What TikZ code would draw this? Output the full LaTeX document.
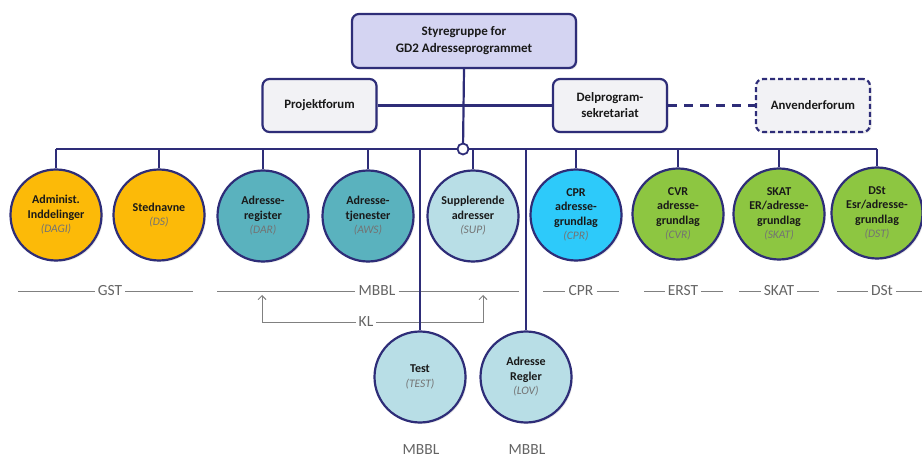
\documentclass[tikz,border=0pt]{standalone}
\usepackage{fontspec}
\setmainfont{Carlito}
\usepackage{tikz}
\usetikzlibrary{arrows.meta, shadows}

\definecolor{navy}{RGB}{46,45,120}
\definecolor{lilla}{RGB}{212,212,242}
\definecolor{graa}{RGB}{242,242,245}
\definecolor{orange_c}{RGB}{252,186,8}
\definecolor{teal_c}{RGB}{90,178,190}
\definecolor{lyseblaa}{RGB}{184,222,230}
\definecolor{cpr_c}{RGB}{45,202,250}
\definecolor{groen}{RGB}{141,198,65}
\definecolor{linjegraa}{RGB}{128,128,128}
\definecolor{tekstgraa}{RGB}{100,100,100}
\definecolor{kodegraa}{RGB}{115,115,115}
\definecolor{tekstsort}{RGB}{25,25,25}

\newcommand{\kode}[1]{{\normalfont\itshape\fontsize{11.5}{14}\selectfont\color{kodegraa}(#1)}}

\begin{document}
\begin{tikzpicture}[
    x=1pt, y=-1pt,
    every node/.style={align=center},
    skygge/.style={drop shadow={opacity=0.18, shadow xshift=1.5pt, shadow yshift=-1.5pt}},
    box_lilla/.style={
        rectangle,
        draw=navy,
        line width=2.2pt,
        fill=lilla,
        skygge,
        rounded corners=7pt,
        minimum width=224pt,
        minimum height=54pt,
        text=tekstsort,
        font=\bfseries\fontsize{13}{17}\selectfont
    },
    box_graa/.style={
        rectangle,
        draw=navy,
        line width=2.2pt,
        fill=graa,
        skygge,
        rounded corners=7pt,
        minimum width=114pt,
        minimum height=53pt,
        text=tekstsort,
        font=\bfseries\fontsize{12.8}{16}\selectfont
    },
    box_stiplet/.style={
        box_graa,
        dash pattern=on 5pt off 3pt
    },
    circ/.style={
        circle,
        draw=navy,
        line width=2.2pt,
        skygge,
        minimum size=91pt,
        inner sep=0pt,
        text=tekstsort,
        font=\bfseries\fontsize{12}{14.5}\selectfont
    },
    circ_orange/.style={circ, fill=orange_c},
    circ_teal/.style={circ, fill=teal_c},
    circ_lys/.style={circ, fill=lyseblaa},
    circ_cpr/.style={circ, fill=cpr_c},
    circ_groen/.style={circ, fill=groen},
    hub/.style={circle, draw=navy, line width=1.8pt, fill=white, minimum size=11pt, inner sep=0pt},
    line/.style={draw=navy, line width=2.2pt},
    label_line/.style={draw=linjegraa, line width=0.9pt},
    label_text/.style={text=tekstgraa, font=\fontsize{15.5}{17}\selectfont, inner sep=3pt},
    arrow/.style={label_line, -{Straight Barb[length=4pt, width=8pt]}}
]
    \useasboundingbox (0,0) rectangle (922,457);

    % ledelse
    \node [box_lilla] (styre) at (464,41) {Styregruppe for\\GD2 Adresseprogrammet};
    \node [box_graa] (projekt) at (319.5,105.5) {Projektforum};
    \node [box_graa] (delprog) at (610,105.5) {Delprogram-\\sekretariat};
    \node [box_stiplet] (anvender) at (813,105.5) {Anvenderforum};

    % forbindelser i toppen
    \draw [line] (styre.south) -- (463,149);
    \draw [line] (projekt.east) -- (delprog.west);
    \draw [line, dash pattern=on 9pt off 7pt] (delprog.east) -- (anvender.west);

    % delprojekter
    \node [circ_orange] (admin) at (56,215) {Administ.\\Inddelinger\\\kode{DAGI}};
    \node [circ_orange] (sted) at (159,215) {Stednavne\\\kode{DS}};
    \node [circ_teal] (dar) at (263,216) {Adresse-\\register\\\kode{DAR}};
    \node [circ_teal] (aws) at (368,216) {Adresse-\\tjenester\\\kode{AWS}};
    \node [circ_lys] (sup) at (473,216) {Supplerende\\adresser\\\kode{SUP}};
    \node [circ_cpr] (cpr) at (576,215) {CPR\\adresse-\\grundlag\\\kode{CPR}};
    \node [circ_groen] (cvr) at (678,214) {CVR\\adresse-\\grundlag\\\kode{CVR}};
    \node [circ_groen] (skat) at (779,214) {SKAT\\ER/adresse-\\grundlag\\\kode{SKAT}};
    \node [circ_groen] (dst) at (877,213) {DSt\\Esr/adresse-\\grundlag\\\kode{DST}};
    \node [circ_lys] (test) at (420,377) {Test\\\kode{TEST}};
    \node [circ_lys] (regler) at (526,377) {Adresse\\Regler\\\kode{LOV}};

    % ansvarlige
    \node [label_text] (gst) at (110,291) {GST};
    \node [label_text] (mbbl) at (377,291) {MBBL};
    \node [label_text] (kl) at (366,322) {KL};
    \node [label_text] (cpr_a) at (581,291) {CPR};
    \node [label_text] (erst) at (683,291) {ERST};
    \node [label_text] (skat_a) at (779,291) {SKAT};
    \node [label_text] (dst_a) at (882,291) {DSt};
    \node [label_text] (mbbl_test) at (421,450) {MBBL};
    \node [label_text] (mbbl_lov) at (527,450) {MBBL};

    \coordinate (gst_l) at (18,291);
    \coordinate (gst_r) at (193,291);
    \coordinate (mbbl_l) at (217,291);
    \coordinate (mbbl_r) at (519,291);
    \coordinate (kl_l) at (262,322);
    \coordinate (kl_r) at (483,322);
    \coordinate (cpr_l) at (543,291);
    \coordinate (cpr_r) at (619,291);
    \coordinate (erst_l) at (644,291);
    \coordinate (erst_r) at (723,291);
    \coordinate (skat_l) at (739,291);
    \coordinate (skat_r) at (819,291);
    \coordinate (dst_l) at (837,291);
    \coordinate (dst_r) at (922,291);

    \draw [label_line] (gst_l) -- (gst.west) (gst.east) -- (gst_r);
    \draw [label_line] (mbbl_l) -- (mbbl.west) (mbbl.east) -- (mbbl_r);
    \draw [label_line] (cpr_l) -- (cpr_a.west) (cpr_a.east) -- (cpr_r);
    \draw [label_line] (erst_l) -- (erst.west) (erst.east) -- (erst_r);
    \draw [label_line] (skat_l) -- (skat_a.west) (skat_a.east) -- (skat_r);
    \draw [label_line] (dst_l) -- (dst_a.west) (dst_a.east) -- (dst_r);
    \draw [arrow] (kl.west) -- (kl_l) -- ++(0,-27);
    \draw [arrow] (kl.east) -- (kl_r) -- ++(0,-27);

    % forbindelser til delprojekter
    \node [hub] (knude) at (463,149) {};
    \draw [line] (admin.north |- knude) -- (knude.west);
    \draw [line] (knude.east) -- (dst.north |- knude);
    \draw [line] (admin.north |- knude) -- (admin.north);
    \draw [line] (sted.north |- knude) -- (sted.north);
    \draw [line] (dar.north |- knude) -- (dar.north);
    \draw [line] (aws.north |- knude) -- (aws.north);
    \draw [line] (sup.north |- knude) -- (sup.north);
    \draw [line] (cpr.north |- knude) -- (cpr.north);
    \draw [line] (cvr.north |- knude) -- (cvr.north);
    \draw [line] (skat.north |- knude) -- (skat.north);
    \draw [line] (dst.north |- knude) -- (dst.north);
    \draw [line] (test.north |- knude) -- (test.north);
    \draw [line] (regler.north |- knude) -- (regler.north);
\end{tikzpicture}
\end{document}
